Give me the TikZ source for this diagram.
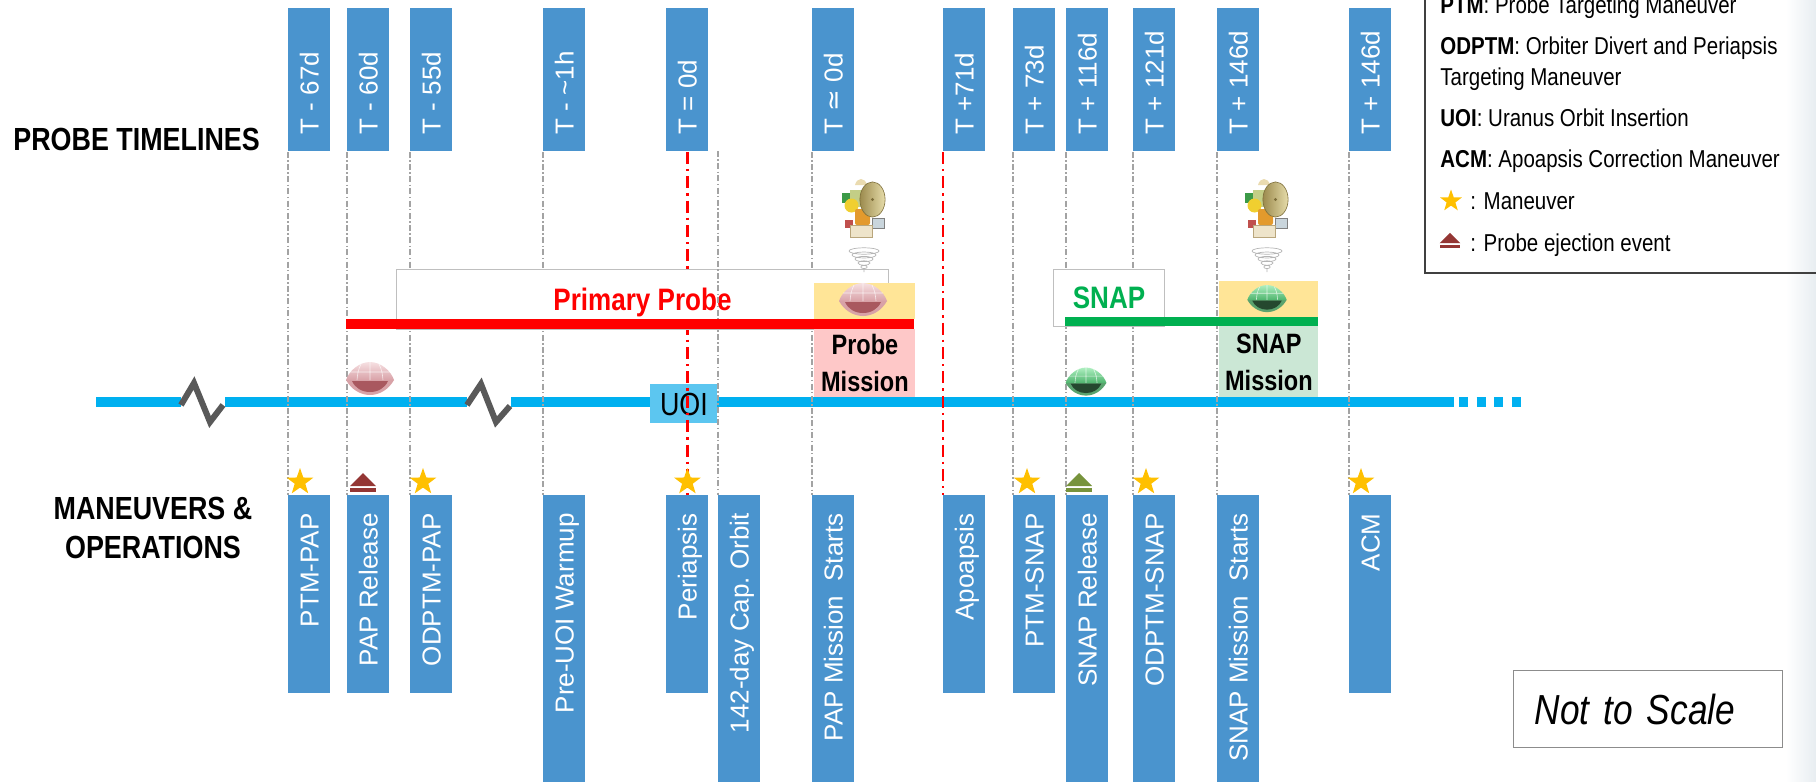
\documentclass[tikz,border=0pt]{standalone}
\usepackage{fontspec}
\usepackage{xcolor}
\setmainfont{Liberation Sans}
\newfontfamily\narrow{Liberation Sans}[FakeStretch=0.84]
\newfontfamily\dejavu{DejaVu Sans}
\usetikzlibrary{shapes.geometric}
\definecolor{boxblue}{HTML}{4A94CE}
\definecolor{barcyan}{HTML}{00B0F0}
\definecolor{uoicyan}{HTML}{5CC6F0}
\definecolor{snapgreen}{HTML}{00B050}
\definecolor{probeyellow}{HTML}{FFE597}
\definecolor{probepink}{HTML}{FEC8C8}
\definecolor{snapmint}{HTML}{CBE7D5}
\definecolor{stargold}{HTML}{FFC000}
\definecolor{ejectred}{HTML}{943634}
\definecolor{ejectgreen}{HTML}{77933C}
\definecolor{guidegrey}{HTML}{A3A3A3}
\definecolor{breakgrey}{HTML}{595959}
\definecolor{calloutgrey}{HTML}{BFBFBF}
\definecolor{legendline}{HTML}{404040}
\definecolor{notegrey}{HTML}{8C8C8C}
\definecolor{edgetint}{HTML}{E6ECF0}
% aeroshells
\definecolor{paplight}{HTML}{F6E0E2}
\definecolor{papmid}{HTML}{D9A2A8}
\definecolor{paprim}{HTML}{D8A2A7}
\definecolor{papdark}{HTML}{A9585F}
\definecolor{snaplight}{HTML}{AEEFC0}
\definecolor{snapmid}{HTML}{4FB56E}
\definecolor{snaprim}{HTML}{5AA36E}
\definecolor{snapdark}{HTML}{25482F}
% orbiter parts
\definecolor{hornbeige}{HTML}{EADBB0}
\definecolor{dishdark}{HTML}{9C8B4E}
\definecolor{dishlight}{HTML}{E6DCAA}
\definecolor{dishrim}{HTML}{7D6E3A}
\definecolor{partgreen}{HTML}{3C9A48}
\definecolor{partlime}{HTML}{C3CE86}
\definecolor{partyellow}{HTML}{F0CF30}
\definecolor{tankorange}{HTML}{E39A2D}
\definecolor{partred}{HTML}{C0504D}
\definecolor{cylgrey}{HTML}{C9D5DC}
\definecolor{basecream}{HTML}{EEE4CA}
\definecolor{basering}{HTML}{B9A67C}
\definecolor{signalgrey}{HTML}{B5B5B5}
\tikzset{
  tbox/.style={fill=boxblue,minimum width=21pt,minimum height=71.5pt,anchor=north west,inner sep=0pt},
  bbox/.style={fill=boxblue,minimum width=21pt,minimum height=99pt,anchor=north west,inner sep=0pt},
  longbox/.style={bbox,minimum height=150pt},
  boxtext/.style={rotate=90,inner sep=0pt,text=white,text height=9.3pt,text depth=0pt,font=\fontsize{13}{15}\selectfont},
  tlabel/.style={boxtext,anchor=west},
  blabel/.style={boxtext,anchor=east},
  guide/.style={draw=guidegrey,line width=0.6pt,dash pattern=on 3pt off 1.2pt on 0.7pt off 1.2pt},
  epoch/.style={draw=red,line width=1.2pt,dash pattern=on 6pt off 2.5pt on 1.2pt off 2.5pt},
  mainbar/.style={draw=barcyan,line width=5pt},
  breakmark/.style={draw=breakgrey,line width=3pt},
  maneuver/.style={star,star points=5,star point ratio=2.5,fill=stargold,inner sep=0pt,minimum size=14pt},
  heading/.style={inner sep=0pt,font=\narrow\bfseries\fontsize{16}{19.5}\selectfont},
  callout/.style={draw=calloutgrey,fill=white,line width=0.5pt,inner sep=0pt,anchor=north west,text depth=0pt,font=\narrow\bfseries\fontsize{15.5}{18}\selectfont},
  mission/.style={inner sep=0pt,anchor=north west,minimum width=50.5pt,align=center,font=\narrow\bfseries\fontsize{14}{18.5}\selectfont},
  legendtext/.style={inner sep=0pt,anchor=base west,font=\narrow\fontsize{12.2}{14}\selectfont},
  eject/.pic={
    \fill[#1] (-13,4) -- (0,-9) -- (13,4) -- cycle;
    \fill[#1] (-13,6) rectangle (13,10);
  },
  aeroshell/.pic={
    % heat shield
    \fill[#1rim] (-24,1) .. controls (-19,10) and (-10,16) .. (0,16) .. controls (10,16) and (19,10) .. (24,1) -- cycle;
    \fill[#1dark] (-18,2) .. controls (-15,9) and (-8,13) .. (0,13) .. controls (8,13) and (15,9) .. (18,2) -- cycle;
    % back shell
    \shade[top color=#1light,bottom color=#1mid] (-24,1) .. controls (-21,-8) and (-11,-17) .. (0,-17) .. controls (11,-17) and (21,-8) .. (24,1) -- cycle;
    \draw[white,opacity=.7,line width=.3pt] (0,-17) -- (0,1)
      (-9,-15) .. controls (-12,-8) .. (-13,1) (9,-15) .. controls (12,-8) .. (13,1)
      (-20,-7) -- (20,-7);
  },
  orbiter/.pic={
    \fill[hornbeige] (-9,-23) .. controls (-7,-31) and (1,-31) .. (3,-23) -- cycle;
    \fill[partgreen] (-22,-15) rectangle (-11,-5);
    \fill[partlime] (-14,-18) rectangle (-2,-1);
    \fill[partyellow] (-12.5,-2.5) circle (3.5pt);
    \fill[tankorange,rounded corners=1pt] (-9,1) rectangle (6,17);
    \fill[partred] (-19,12) rectangle (-11,20);
    \filldraw[fill=cylgrey,draw=gray,line width=.3pt] (8,10) rectangle (20,20);
    \filldraw[fill=basecream,draw=basering,line width=.3pt] (-14,17) rectangle (8,29);
    \shade[left color=dishdark,right color=dishlight] (8.5,-8.5) ellipse [x radius=6.3pt,y radius=8.8pt];
    \draw[dishrim,line width=.3pt] (8.5,-8.5) ellipse [x radius=6.3pt,y radius=8.8pt];
    \fill[dishrim] (8.5,-8.5) circle (0.8pt);
  },
  signal/.pic={
    \draw[signalgrey,line width=.35pt]
      (0,-8) ellipse [x radius=7.5pt,y radius=1.6pt]
      (0,-4) ellipse [x radius=6pt,y radius=1.5pt]
      (0,0) ellipse [x radius=4.5pt,y radius=1.3pt]
      (0,4) ellipse [x radius=3pt,y radius=1.1pt]
      (0,8) ellipse [x radius=1.6pt,y radius=.8pt]
      (0,9) -- (0,13);
  },
}

\begin{document}
\begin{tikzpicture}[x=0.5pt,y=-0.5pt]
\clip (0,0) rectangle (1816,782);
\shade[left color=white,right color=edgetint] (1786,-2) rectangle (1818,784);

% row headings ---------------------------------------------------------------
\node[heading,anchor=base west] (probehead) at (13,150) {PROBE TIMELINES};
\node[heading,align=center] (opshead) at (153,528) {MANEUVERS \&\\OPERATIONS};

% epoch boxes (top) ------------------------------------------------------------
\node[tbox] (tm67) at (288,8) {};
\node[tbox] (tm60) at (347,8) {};
\node[tbox] (tm55) at (410,8) {};
\node[tbox] (tm1h) at (543,8) {};
\node[tbox] (tzero) at (666,8) {};
\node[tbox] (tprobe) at (812,8) {};
\node[tbox] (tp71) at (943,8) {};
\node[tbox] (tp73) at (1013,8) {};
\node[tbox] (tp116) at (1066,8) {};
\node[tbox] (tp121) at (1133,8) {};
\node[tbox] (tp146) at (1217,8) {};
\node[tbox] (tp146b) at (1349,8) {};
\node[tlabel] (tm67txt) at ([yshift=8.5pt]tm67.south) {T - 67d};
\node[tlabel] (tm60txt) at ([yshift=8.5pt]tm60.south) {T - 60d};
\node[tlabel] (tm55txt) at ([yshift=8.5pt]tm55.south) {T - 55d};
\node[tlabel] (tm1htxt) at ([yshift=8.5pt]tm1h.south) {T - \textasciitilde1h};
\node[tlabel] (tzerotxt) at ([yshift=8.5pt]tzero.south) {T = 0d};
\node[tlabel] (tprobetxt) at ([yshift=8.5pt]tprobe.south) {T {\dejavu ≃} 0d};
\node[tlabel] (tp71txt) at ([yshift=8.5pt]tp71.south) {T +71d};
\node[tlabel] (tp73txt) at ([yshift=8.5pt]tp73.south) {T + 73d};
\node[tlabel] (tp116txt) at ([yshift=8.5pt]tp116.south) {T + 116d};
\node[tlabel] (tp121txt) at ([yshift=8.5pt]tp121.south) {T + 121d};
\node[tlabel] (tp146txt) at ([yshift=8.5pt]tp146.south) {T + 146d};
\node[tlabel] (tp146btxt) at ([yshift=8.5pt]tp146b.south) {T + 146d};

% event boxes (bottom) ---------------------------------------------------------
\node[bbox] (ptmpap) at (288,495) {};
\node[bbox] (paprel) at (347,495) {};
\node[bbox] (odptmpap) at (410,495) {};
\node[longbox] (warmup) at (543,495) {};
\node[bbox] (peri) at (666,495) {};
\node[longbox] (capture) at (718,495) {};
\node[longbox] (papstart) at (812,495) {};
\node[bbox] (apo) at (943,495) {};
\node[bbox] (ptmsnap) at (1013,495) {};
\node[longbox] (snaprel) at (1066,495) {};
\node[longbox] (odptmsnap) at (1133,495) {};
\node[longbox] (snapstart) at (1217,495) {};
\node[bbox] (acm) at (1349,495) {};
\node[blabel] (ptmpaptxt) at ([yshift=-9pt]ptmpap.north) {PTM-PAP};
\node[blabel] (papreltxt) at ([yshift=-9pt]paprel.north) {PAP Release};
\node[blabel] (odptmpaptxt) at ([yshift=-9pt]odptmpap.north) {ODPTM-PAP};
\node[blabel] (warmuptxt) at ([yshift=-9pt]warmup.north) {Pre-UOI Warmup};
\node[blabel] (peritxt) at ([yshift=-9pt]peri.north) {Periapsis};
\node[blabel] (capturetxt) at ([yshift=-9pt]capture.north) {142-day Cap.\ Orbit};
\node[blabel] (papstarttxt) at ([yshift=-9pt]papstart.north) {PAP Mission\ \ Starts};
\node[blabel] (apotxt) at ([yshift=-9pt]apo.north) {Apoapsis};
\node[blabel] (ptmsnaptxt) at ([yshift=-9pt]ptmsnap.north) {PTM-SNAP};
\node[blabel] (snapreltxt) at ([yshift=-9pt]snaprel.north) {SNAP Release};
\node[blabel] (odptmsnaptxt) at ([yshift=-9pt]odptmsnap.north) {ODPTM-SNAP};
\node[blabel] (snapstarttxt) at ([yshift=-9pt]snapstart.north) {SNAP Mission\ \ Starts};
\node[blabel] (acmtxt) at ([yshift=-9pt]acm.north) {ACM};

% main timeline with breaks ----------------------------------------------------
\draw[mainbar] (96,402) -- (181,402);
\draw[mainbar] (225,402) -- (467,402);
\draw[mainbar] (511,402) -- (1454,402);
\draw[mainbar,dash pattern=on 4.5pt off 4.3pt] (1459,402) -- (1521,402);
\draw[breakmark] (181,405) -- (194,383) -- (210,422) -- (223,405);
\draw[breakmark] (467,405) -- (481,384) -- (496,422) -- (510,406);
\node[fill=uoicyan,inner sep=0pt,anchor=north west,minimum width=33.5pt,minimum height=19.5pt,text depth=0pt,font=\narrow\fontsize{16}{18}\selectfont] (uoi) at (650,384) {UOI};

% guide lines ------------------------------------------------------------------
\draw[guide] (tm67.south west) -- (ptmpap.north west);
\draw[guide] (tm60.south west) -- (paprel.north west);
\draw[guide] (tm55.south west) -- (odptmpap.north west);
\draw[guide] (tm1h.south west) -- (warmup.north west);
\draw[epoch] (tzero.south) -- (peri.north);
\draw[guide] (tprobe.south west) -- (papstart.north west);
\draw[epoch] (tp71.south west) -- (apo.north west);
\draw[guide] (tp73.south west) -- (ptmsnap.north west);
\draw[guide] (tp116.south west) -- (snaprel.north west);
\draw[guide] (tp121.south west) -- (odptmsnap.north west);
\draw[guide] (tp146.south west) -- (snapstart.north west);
\draw[guide] (tp146b.south west) -- (acm.north west);

% probe phases -----------------------------------------------------------------
\node[callout,text=red,minimum width=246pt,minimum height=30pt] (primary) at (396,269) {Primary Probe};
\node[callout,text=snapgreen,minimum width=55.5pt,minimum height=28.5pt] (snaplabel) at (1053,269) {SNAP};
\coordinate (captop) at (718,151);
\draw[guide] (captop) -- (capture.north west);

\node[mission,fill=probeyellow,minimum height=18pt] (pshell) at (814,283) {};
\node[mission,fill=probepink,minimum height=34pt] (pmission) at (814,329) {Probe\\Mission};
\node[mission,fill=probeyellow,minimum width=49.5pt,minimum height=18pt] (sshell) at (1219,281) {};
\node[mission,fill=snapmint,minimum width=49.5pt,minimum height=35.5pt] (smission) at (1219,326) {SNAP\\Mission};
\draw[red,line width=5pt] (346,324) -- (914,324);
\draw[snapgreen,line width=4.5pt] (1065,321.5) -- (1318,321.5);

% spacecraft and probes
\pic (papdrop) at (370,379) {aeroshell=pap};
\pic (papshell) at (863,300) {aeroshell=pap};
\pic[scale=0.85] (snapdrop) at (1086,382) {aeroshell=snap};
\pic[scale=0.82] (snapshell) at (1267,299) {aeroshell=snap};
\pic (orbiter1) at (864,208) {orbiter};
\pic (orbiter2) at (1267,208) {orbiter};
\pic (link1) at (864,259) {signal};
\pic (link2) at (1267,259) {signal};

% maneuvers and releases -------------------------------------------------------
\node[maneuver] (mvptmpap) at ([xshift=6pt,yshift=6.5pt]ptmpap.north west) {};
\node[maneuver] (mvodptmpap) at ([xshift=6.5pt,yshift=6.5pt]odptmpap.north west) {};
\node[maneuver] (mvperi) at ([yshift=6.5pt]peri.north) {};
\node[maneuver] (mvptmsnap) at ([xshift=7pt,yshift=6.5pt]ptmsnap.north west) {};
\node[maneuver] (mvodptmsnap) at ([xshift=6.5pt,yshift=6.5pt]odptmsnap.north west) {};
\node[maneuver] (mvacm) at ([xshift=6pt,yshift=6.5pt]acm.north west) {};
\pic (ejpap) at ([xshift=8pt,yshift=6.5pt]paprel.north west) {eject=ejectred};
\pic (ejsnap) at ([xshift=6.5pt,yshift=6.5pt]snaprel.north west) {eject=ejectgreen};

% legend -----------------------------------------------------------------------
\node[draw=legendline,line width=0.8pt,anchor=north west,minimum width=205pt,minimum height=141pt] (legend) at (1424,-10) {};
\node[legendtext] (ptmkey) at (1440,13) {\textbf{PTM}: Probe Targeting Maneuver};
\node[legendtext] (odptmkey) at (1440,54) {\textbf{ODPTM}: Orbiter Divert and Periapsis};
\node[legendtext] (odptmkeyb) at (1440,85) {Targeting Maneuver};
\node[legendtext] (uoikey) at (1440,126) {\textbf{UOI}: Uranus Orbit Insertion};
\node[legendtext] (acmkey) at (1440,167) {\textbf{ACM}: Apoapsis Correction Maneuver};
\node[maneuver,minimum size=11.5pt] (starkey) at (1451,201) {};
\node[legendtext] (starkeytxt) at (1470,209) {: Maneuver};
\pic[scale=0.8] (ejectkey) at (1450,240) {eject=ejectred};
\node[legendtext] (ejectkeytxt) at (1470,251) {: Probe ejection event};

\node[draw=notegrey,line width=0.6pt,fill=white,anchor=north west,minimum height=38.5pt,text width=113.5pt,inner xsep=10.5pt,align=left,font=\narrow\itshape\fontsize{21}{24}\selectfont] (notscale) at (1513,670) {Not to Scale};

\end{tikzpicture}
\end{document}
